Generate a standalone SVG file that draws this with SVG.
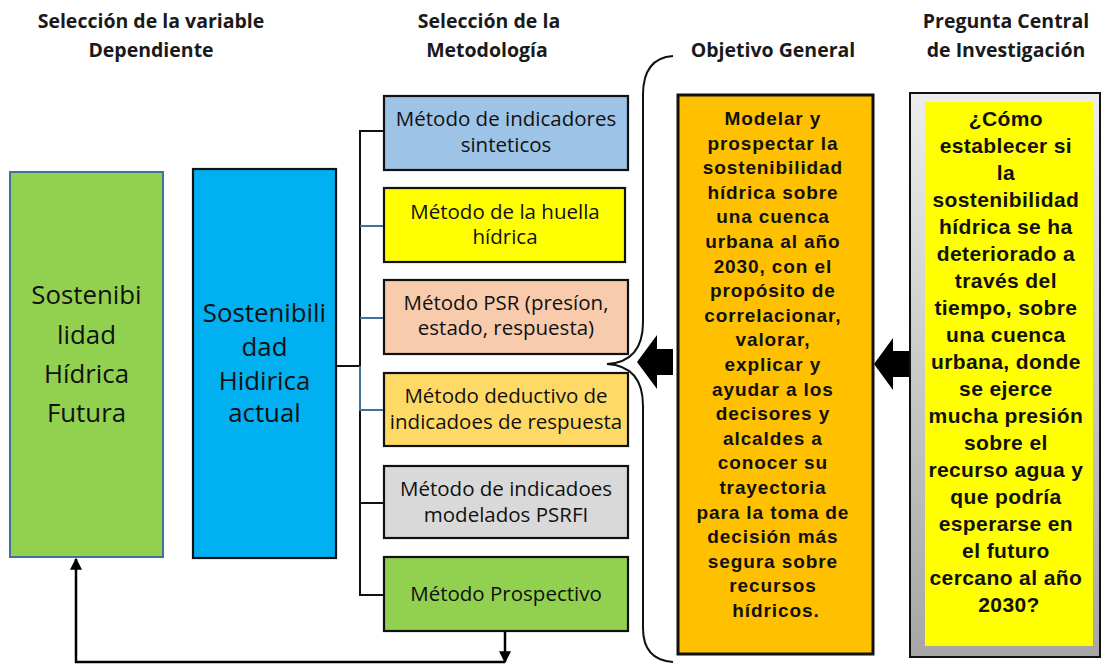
<svg xmlns="http://www.w3.org/2000/svg" width="1102" height="664" viewBox="0 0 1102 664">
<defs>
<style>
.hdr{font-family:"Open Sans","Liberation Sans",sans-serif;font-weight:bold;font-size:19.5px;fill:#1a1a1a;text-anchor:middle}
.mt{font-family:"Open Sans","Liberation Sans",sans-serif;font-size:20.5px;fill:#111;text-anchor:middle}
.big{font-family:"Open Sans","Liberation Sans",sans-serif;font-size:25.8px;fill:#111;text-anchor:middle}
.bt{font-family:"Liberation Sans",Arial,sans-serif;font-weight:bold;fill:#111;text-anchor:middle}
.box{stroke:#111;stroke-width:2.2}
.ln{fill:none;stroke:#111;stroke-width:2}
.bl{fill:none;stroke:#41719C;stroke-width:2}
</style>
<marker id="ah" viewBox="0 0 10 10" refX="9" refY="5" markerWidth="12" markerHeight="12" markerUnits="userSpaceOnUse" orient="auto">
<path d="M0,0 L10,5 L0,10 z" fill="#000"/>
</marker>
<linearGradient id="gr" x1="0" y1="0" x2="0" y2="1">
<stop offset="0" stop-color="#EDEDED"/>
<stop offset="1" stop-color="#A6A6A6"/>
</linearGradient>
</defs>
<rect width="1102" height="664" fill="#fff"/>

<g id="headers">
<text class="hdr" x="151" y="28">Selección de la variable</text>
<text class="hdr" x="151" y="57">Dependiente</text>
<text class="hdr" x="489" y="28">Selección de la</text>
<text class="hdr" x="487" y="57">Metodología</text>
<text class="hdr" x="773" y="57">Objetivo General</text>
<text class="hdr" x="1006" y="28">Pregunta Central</text>
<text class="hdr" x="1006" y="57">de Investigación</text>
</g>

<g id="connectors">
<polyline class="ln" points="336,366 360,366"/>
<polyline class="ln" points="384,131 360,131 360,595 384,595"/>
<line class="ln" x1="360" y1="503" x2="384" y2="503"/>
<line class="bl" x1="360" y1="226" x2="384" y2="226"/>
<line class="bl" x1="360" y1="318" x2="384" y2="318"/>
<polyline class="bl" points="360,366 360,410 384,410"/>
<line x1="505" y1="631" x2="505" y2="662" stroke="#000" stroke-width="2.5" marker-end="url(#ah)"/>
<polyline points="505,662 76,662 76,559" fill="none" stroke="#000" stroke-width="2.5" marker-end="url(#ah)"/>
<path d="M673,56 Q643,58 643,95 L643,322 Q643,362 607,364 Q643,366 643,406 L643,628 Q643,660 673,662" fill="none" stroke="#111" stroke-width="2"/>
<polygon points="637,362 657,335 657,349 673,349 673,375 657,375 657,389" fill="#000"/>
<polygon points="874,364 893,338 893,351 910,351 910,377 893,377 893,390" fill="#000"/>
</g>

<g id="futura">
<rect x="10" y="172" width="153" height="385" fill="#92D050" stroke="#41719C" stroke-width="2"/>
<text class="big" x="86.5" y="304">Sostenibi</text>
<text class="big" x="86.5" y="344">lidad</text>
<text class="big" x="86.5" y="383">Hídrica</text>
<text class="big" x="86.5" y="422">Futura</text>
</g>

<g id="actual">
<rect class="box" x="193" y="169" width="143" height="389" fill="#00B0F0" stroke-width="2.5"/>
<text class="big" x="264.5" y="322">Sostenibili</text>
<text class="big" x="264.5" y="356">dad</text>
<text class="big" x="264.5" y="390">Hidirica</text>
<text class="big" x="264.5" y="422">actual</text>
</g>

<g id="m1">
<rect class="box" x="384" y="96" width="244" height="74" fill="#9DC3E6"/>
<text class="mt" x="506" y="126">Método de indicadores</text>
<text class="mt" x="506" y="152">sinteticos</text>
</g>
<g id="m2">
<rect class="box" x="384" y="188" width="241" height="74" fill="#FFFF00"/>
<text class="mt" x="505" y="219">Método de la huella</text>
<text class="mt" x="505" y="244">hídrica</text>
</g>
<g id="m3">
<rect class="box" x="384" y="280" width="244" height="74" fill="#F8CBAD"/>
<text class="mt" x="506" y="310">Método PSR (presíon,</text>
<text class="mt" x="506" y="335">estado, respuesta)</text>
</g>
<g id="m4">
<rect class="box" x="384" y="373" width="244" height="73" fill="#FFD966"/>
<text class="mt" x="506" y="403">Método deductivo de</text>
<text class="mt" x="506" y="429">indicadoes de respuesta</text>
</g>
<g id="m5">
<rect class="box" x="384" y="466" width="244" height="72" fill="#D9D9D9"/>
<text class="mt" x="506" y="496">Método de indicadoes</text>
<text class="mt" x="506" y="522">modelados PSRFI</text>
</g>
<g id="m6">
<rect class="box" x="384" y="557" width="244" height="74" fill="#92D050"/>
<text class="mt" x="506" y="601">Método Prospectivo</text>
</g>

<g id="objetivo">
<rect x="678" y="95" width="195" height="559" fill="#FFC000" stroke="#111" stroke-width="3"/>
<text class="bt" font-size="19" letter-spacing="0.9" x="776">
<tspan x="776" y="125">Modelar y</tspan>
<tspan x="776" y="149.6">prospectar la</tspan>
<tspan x="776" y="174.2">sostenibilidad</tspan>
<tspan x="776" y="198.8">hídrica sobre</tspan>
<tspan x="776" y="223.4">una cuenca</tspan>
<tspan x="776" y="248">urbana al año</tspan>
<tspan x="776" y="272.6">2030, con el</tspan>
<tspan x="776" y="297.2">propósito de</tspan>
<tspan x="776" y="321.8">correlacionar,</tspan>
<tspan x="776" y="346.4">valorar,</tspan>
<tspan x="776" y="371">explicar y</tspan>
<tspan x="776" y="395.6">ayudar a los</tspan>
<tspan x="776" y="420.2">decisores y</tspan>
<tspan x="776" y="444.8">alcaldes a</tspan>
<tspan x="776" y="469.4">conocer su</tspan>
<tspan x="776" y="494">trayectoria</tspan>
<tspan x="776" y="518.6">para la toma de</tspan>
<tspan x="776" y="543.2">decisión más</tspan>
<tspan x="776" y="567.8">segura sobre</tspan>
<tspan x="776" y="592.4">recursos</tspan>
<tspan x="776" y="617">hídricos.</tspan>
</text>
</g>

<g id="pregunta">
<rect x="910" y="93" width="190" height="564" fill="url(#gr)" stroke="#111" stroke-width="2"/>
<rect x="925" y="102" width="168" height="544" fill="#FFFF00"/>
<text class="bt" font-size="21" letter-spacing="0.4" x="1009">
<tspan x="1009" y="126">¿Cómo</tspan>
<tspan x="1009" y="153">establecer si</tspan>
<tspan x="1009" y="180">la</tspan>
<tspan x="1009" y="207">sostenibilidad</tspan>
<tspan x="1009" y="234">hídrica se ha</tspan>
<tspan x="1009" y="261">deteriorado a</tspan>
<tspan x="1009" y="288">través del</tspan>
<tspan x="1009" y="315">tiempo, sobre</tspan>
<tspan x="1009" y="342">una cuenca</tspan>
<tspan x="1009" y="369">urbana, donde</tspan>
<tspan x="1009" y="396">se ejerce</tspan>
<tspan x="1009" y="423">mucha presión</tspan>
<tspan x="1009" y="450">sobre el</tspan>
<tspan x="1009" y="477">recurso agua y</tspan>
<tspan x="1009" y="504">que podría</tspan>
<tspan x="1009" y="531">esperarse en</tspan>
<tspan x="1009" y="558">el futuro</tspan>
<tspan x="1009" y="585">cercano al año</tspan>
<tspan x="1009" y="612">2030?</tspan>
</text>
</g>
</svg>
